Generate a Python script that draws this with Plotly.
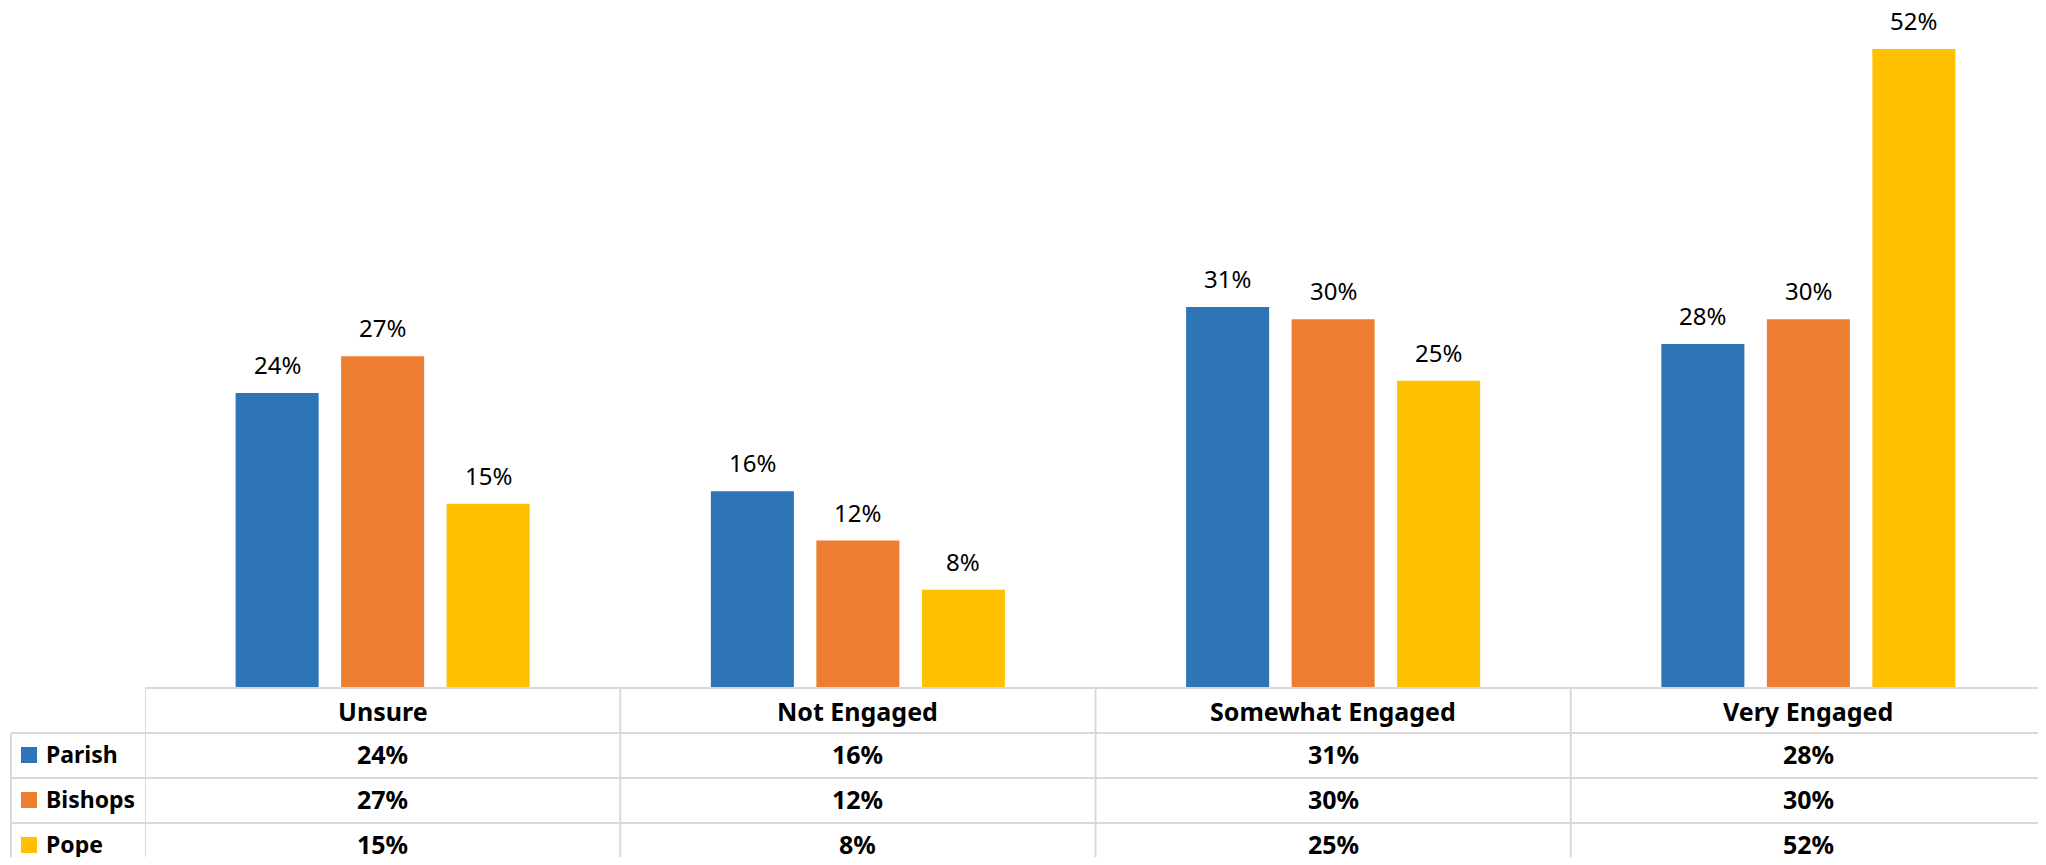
import plotly.graph_objects as go

# data
categories = ["Unsure", "Not Engaged", "Somewhat Engaged", "Very Engaged"]
series_names = ["Parish", "Bishops", "Pope"]
parish = [24, 16, 31, 28]
bishops = [27, 12, 30, 30]
pope = [15, 8, 25, 52]
colors = ["#2E75B6", "#ED7D31", "#FFC000"]

values = [parish, bishops, pope]

# page geometry, in screen pixels (the page body has an 8px margin)
SCREEN_W, SCREEN_H = 2046, 865
OFF = 8
FIG_W, FIG_H = SCREEN_W - 2 * OFF, SCREEN_H - 2 * OFF
PLOT_L = 145             # screen x where the plot / table columns start
PLOT_B = 688             # screen y of the chart baseline / table top
CAT_W = 475.25           # width of one category column
ROW_H = 45
TABLE_LEFT = 11
GRID = "#d9d9d9"
FONT = "Noto Sans"
BARGAP = 0.334
BARGROUPGAP = 0.213
PCT_PER_PX = 1 / 12.29

plot_w = FIG_W - (PLOT_L - OFF)
plot_h = PLOT_B - OFF


def px(x):
    return (x - PLOT_L) / plot_w


def py(y):
    return (PLOT_B - y) / plot_h


fig = go.Figure()
for name, vals, col in zip(series_names, values, colors):
    fig.add_trace(go.Bar(x=categories, y=vals, name=name, marker_color=col,
                         marker_line_width=0, hoverinfo="skip"))

annotations = []
shapes = []

# data labels above the bars
slot = (1 - BARGAP) / len(series_names)
for i, vals in enumerate(values):
    for j, v in enumerate(vals):
        annotations.append(dict(
            x=j + (i - 1) * slot, y=v, xref="x", yref="y",
            text=f"{v}%", showarrow=False, yanchor="bottom", yshift=10,
            font=dict(family=FONT, size=24, color="#000000")))

# table below the chart
rows_y = [PLOT_B + ROW_H * k for k in range(5)]

# horizontal lines
shapes.append(dict(type="line", xref="paper", yref="paper",
                   x0=0, x1=1, y0=py(rows_y[0]), y1=py(rows_y[0]),
                   line=dict(color=GRID, width=2)))
for y in rows_y[1:]:
    shapes.append(dict(type="line", xref="paper", yref="paper",
                       x0=px(TABLE_LEFT), x1=1, y0=py(y), y1=py(y),
                       line=dict(color=GRID, width=2)))
# vertical lines
shapes.append(dict(type="line", xref="paper", yref="paper",
                   x0=px(TABLE_LEFT), x1=px(TABLE_LEFT), y0=py(rows_y[1]), y1=py(rows_y[4]),
                   line=dict(color=GRID, width=2)))
for k in range(len(categories)):
    shapes.append(dict(type="line", xref="x", yref="paper",
                       x0=k - 0.5, x1=k - 0.5, y0=py(rows_y[0]), y1=py(rows_y[4]),
                       line=dict(color=GRID, width=2)))

# header row
for c in categories:
    annotations.append(dict(x=c, y=py(rows_y[0] + ROW_H / 2), xref="x", yref="paper",
                            text=f"<b>{c}</b>", showarrow=False, yanchor="middle",
                            font=dict(family=FONT, size=25, color="#000000")))

# data rows
for i, (name, vals, col) in enumerate(zip(series_names, values, colors)):
    yc = rows_y[i + 1] + ROW_H / 2 - 1.5
    shapes.append(dict(type="rect", xref="paper", yref="paper",
                       x0=px(21), x1=px(37), y0=py(yc - 7), y1=py(yc + 9),
                       fillcolor=col, line=dict(width=0)))
    annotations.append(dict(x=px(44), y=py(yc), xref="paper", yref="paper",
                            text=f"<b>{name}</b>", showarrow=False,
                            xanchor="left", yanchor="middle",
                            font=dict(family=FONT, size=23, color="#000000")))
    for c, v in zip(categories, vals):
        annotations.append(dict(x=c, y=py(yc), xref="x", yref="paper",
                                text=f"<b>{v}%</b>", showarrow=False, yanchor="middle",
                                font=dict(family=FONT, size=25, color="#000000")))

fig.update_layout(
    width=FIG_W, height=FIG_H,
    margin=dict(l=PLOT_L - OFF, r=0, t=0, b=FIG_H - plot_h),
    barmode="group", bargap=BARGAP, bargroupgap=BARGROUPGAP,
    plot_bgcolor="white", paper_bgcolor="white",
    showlegend=False,
    xaxis=dict(showticklabels=False, showgrid=False, zeroline=False, showline=False,
               ticks="", range=[-0.5, -0.5 + plot_w / CAT_W]),
    yaxis=dict(visible=False, range=[0, plot_h * PCT_PER_PX], showgrid=False, zeroline=False),
    annotations=annotations,
    shapes=shapes,
)

fig.write_html("out.html")
